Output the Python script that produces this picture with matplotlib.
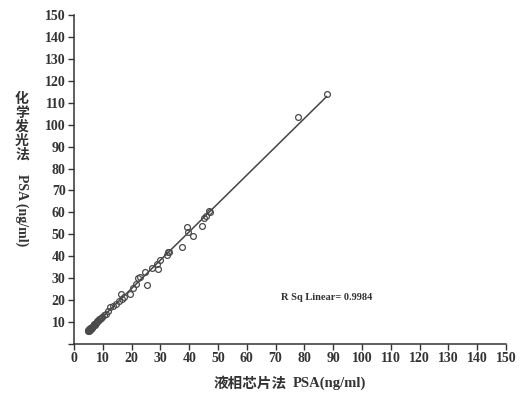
import numpy as np
import matplotlib
matplotlib.use('Agg')
import matplotlib.pyplot as plt

# readings from the scanned scatter (ng/ml)
liquid_chip = [4.8, 5.0, 5.2, 5.3, 5.5, 5.6, 5.8, 6.0, 6.2, 6.3, 6.5, 6.7, 6.9, 7.1, 7.3,
               7.5, 7.8, 8.0, 8.3, 8.6, 9.0, 9.3, 9.8, 10.3, 11.0, 11.8, 12.5, 13.5, 14.5,
               15.5, 16.3, 16.8, 17.5, 19.4, 20.5, 21.5, 22.3, 23.0, 24.7, 25.2, 27.0,
               28.7, 29.3, 29.9, 32.3, 32.7, 33.1, 37.4, 39.1, 39.7, 41.2, 44.3, 45.2,
               45.7, 46.8, 47.2, 77.9, 87.7]
chemilum = [5.8, 6.2, 6.0, 6.8, 6.5, 7.2, 6.9, 7.5, 7.8, 7.2, 8.2, 8.0, 8.6, 9.0, 8.8,
            9.5, 9.8, 10.3, 10.6, 11.2, 11.5, 12.0, 12.4, 13.0, 13.8, 15.0, 16.8, 17.5,
            18.2, 19.5, 23.0, 20.5, 21.5, 23.0, 25.5, 27.5, 29.9, 30.5, 32.9, 26.8, 34.5,
            36.7, 34.0, 38.2, 40.8, 42.0, 41.8, 44.2, 53.3, 51.0, 49.1, 54.0, 57.5, 58.2,
            60.5, 60.1, 103.6, 114.0]
ticks = list(range(0, 151, 10))
r_sq_text = "R Sq Linear= 0.9984"

W, H = 523, 393
fig = plt.figure(figsize=(W / 100, H / 100), dpi=100)
fig.patch.set_facecolor('white')
ax = fig.add_axes([74 / W, 1 - 344 / H, (506 - 74) / W, (344 - 15) / H])

x = np.array(liquid_chip)
y = np.array(chemilum)
ax.plot(x, y, 'o', ms=4.2, mfc='none', mec='#4a4a4a', mew=0.9, zorder=3)

# linear fit line
k, b = np.polyfit(x, y, 1)
xl = np.array([x.min(), x.max()])
ax.plot(xl, k * xl + b, color='#444444', lw=1.1, zorder=2)

ax.set_xlim(0, 150)
ax.set_ylim(0, 150)
ax.set_xticks(ticks)
ax.set_yticks(ticks)
tick_font = dict(family='Liberation Serif', weight='bold', size=10)
ax.set_xticklabels([str(t) for t in ticks], **tick_font, color='#333333')
ax.set_yticklabels(['' if t == 0 else str(t) for t in ticks], **tick_font, color='#333333')
ax.tick_params(direction='out', length=4, width=1, colors='#333333', pad=2)

for side in ['top', 'right']:
    ax.spines[side].set_visible(False)
for side in ['left', 'bottom']:
    ax.spines[side].set_color('#333333')
    ax.spines[side].set_linewidth(1.1)

ax.text(72, 21, r_sq_text, fontsize=7.5, family='Liberation Serif', weight='bold',
        color='#333333', va='center')

cjk = ['Noto Sans CJK SC', 'DejaVu Sans']
# y label: upright stacked Chinese + rotated Latin part
fig.text(22 / W, 1 - 127 / H, "化\n学\n发\n光\n法", family=cjk, fontsize=10,
         weight='bold', color='#333333', ha='center', va='center', linespacing=1.0)
fig.text(22 / W, 1 - 210 / H, "PSA (ng/ml)", family='Liberation Serif', fontsize=10,
         weight='bold', color='#333333', ha='center', va='center', rotation=-90)

# x label: Chinese part + Latin part
fig.text(287 / W, 1 - 383 / H, "液相芯片法", family=cjk, fontsize=10.5,
         weight='bold', color='#333333', ha='right', va='center')
fig.text(293 / W, 1 - 383 / H, "PSA(ng/ml)", family='Liberation Serif', fontsize=10.5,
         weight='bold', color='#333333', ha='left', va='center')

fig.savefig('out.png', dpi=100)
